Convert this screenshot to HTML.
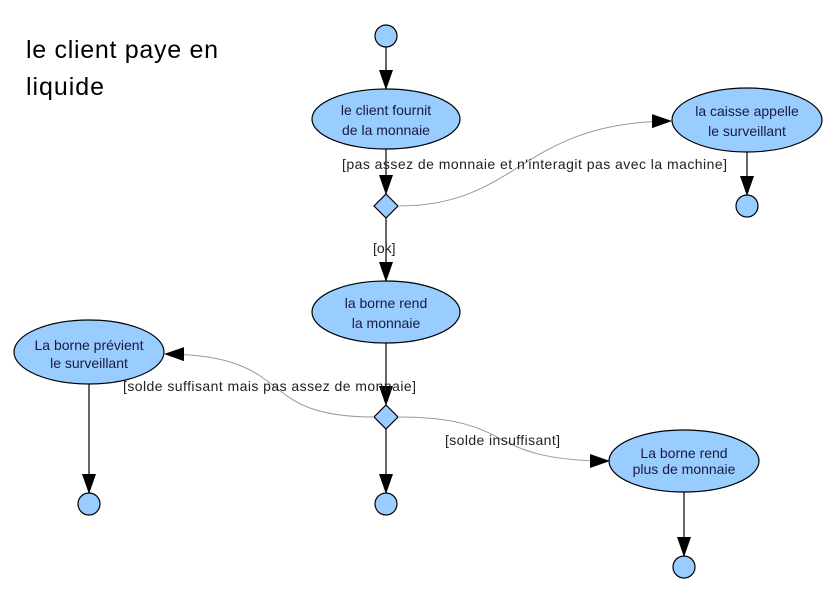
<!DOCTYPE html>
<html><head><meta charset="utf-8"><style>
body{margin:0;background:#fff;}
svg{display:block;font-family:"Liberation Sans",sans-serif;}
</style></head><body>
<svg width="836" height="604" viewBox="0 0 836 604" xmlns="http://www.w3.org/2000/svg">
<defs>
<marker id="a" markerWidth="20" markerHeight="14" refX="19" refY="7" orient="auto" markerUnits="userSpaceOnUse">
<path d="M0,0 L20,7 L0,14 Z" fill="#000"/></marker>
</defs>
<text x="26" y="58" font-size="25" fill="#000" textLength="192">le client paye en</text>
<text x="26" y="95" font-size="25" fill="#000" textLength="78">liquide</text>
<g stroke="#000" stroke-width="1.2" fill="#99ccff">
<circle cx="386" cy="36" r="11"/>
<circle cx="747" cy="206" r="11"/>
<circle cx="89" cy="504" r="11"/>
<circle cx="386" cy="504" r="11"/>
<circle cx="684" cy="567" r="11"/>
<ellipse cx="386" cy="119" rx="74" ry="30"/>
<ellipse cx="747" cy="120" rx="75" ry="32"/>
<ellipse cx="386" cy="312" rx="74" ry="31"/>
<ellipse cx="89" cy="352" rx="75" ry="32"/>
<ellipse cx="684" cy="461" rx="75" ry="31"/>
<path d="M386,194 L398,206 L386,218 L374,206 Z"/>
<path d="M386,405 L398,417 L386,429 L374,417 Z"/>
</g>
<g stroke="#000" stroke-width="1.2" fill="none">
<line x1="386" y1="47" x2="386" y2="89" marker-end="url(#a)"/>
<line x1="386" y1="149" x2="386" y2="194" marker-end="url(#a)"/>
<line x1="386" y1="218" x2="386" y2="281" marker-end="url(#a)"/>
<line x1="386" y1="343" x2="386" y2="405" marker-end="url(#a)"/>
<line x1="386" y1="429" x2="386" y2="493" marker-end="url(#a)"/>
<line x1="747" y1="152" x2="747" y2="195" marker-end="url(#a)"/>
<line x1="89" y1="384" x2="89" y2="493" marker-end="url(#a)"/>
<line x1="684" y1="492" x2="684" y2="556" marker-end="url(#a)"/>
</g>
<g stroke="#999" stroke-width="1" fill="none">
<path d="M398,206 C520,206 520,122 671,121" marker-end="url(#a)"/>
<path d="M374,417 C250,417 300,355 165,354" marker-end="url(#a)"/>
<path d="M398,417 C520,417 480,461 609,461" marker-end="url(#a)"/>
</g>
<g font-size="14" fill="#1a1a40" text-anchor="middle">
<text x="386" y="115">le client fournit</text>
<text x="386" y="135">de la monnaie</text>
<text x="747" y="116">la caisse appelle</text>
<text x="747" y="136">le surveillant</text>
<text x="386" y="308">la borne rend</text>
<text x="386" y="328">la monnaie</text>
<text x="89" y="350">La borne prévient</text>
<text x="89" y="368">le surveillant</text>
<text x="684" y="458">La borne rend</text>
<text x="684" y="474">plus de monnaie</text>
</g>
<g font-size="14" fill="#222">
<text x="342" y="169" textLength="385">[pas assez de monnaie et n'interagit pas avec la machine]</text>
<text x="373" y="253">[ok]</text>
<text x="123" y="391" textLength="293">[solde suffisant mais pas assez de monnaie]</text>
<text x="445" y="445" textLength="115">[solde insuffisant]</text>
</g>
</svg>
</body></html>
